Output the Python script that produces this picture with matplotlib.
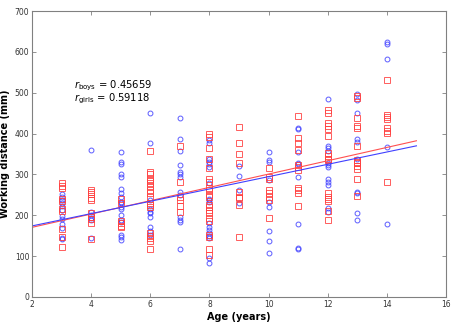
import numpy as np
import matplotlib
matplotlib.use("Agg")
import matplotlib.pyplot as plt

# working distance (mm) per age
boys = {
    3: [251, 245, 237, 229, 223, 213, 198, 190, 179, 168, 145, 141],
    4: [360, 209, 201, 193, 188, 144],
    5: [356, 331, 325, 301, 294, 264, 255, 245, 233, 229, 220, 215, 201, 188, 184, 152, 146, 139],
    6: [450, 376, 237, 215, 209, 205, 197, 171, 162, 152],
    7: [437, 386, 357, 323, 307, 301, 294, 258, 250, 197, 188, 184, 117],
    8: [384, 378, 338, 331, 325, 319, 278, 241, 237, 233, 182, 172, 164, 156, 149, 144, 95, 82],
    9: [321, 295, 262, 230],
    10: [356, 335, 331, 286, 233, 221, 162, 138, 108],
    11: [414, 410, 356, 329, 325, 294, 179, 119, 117],
    12: [484, 370, 364, 358, 327, 323, 319, 290, 282, 274, 217, 209],
    13: [497, 482, 451, 386, 380, 339, 258, 254, 205, 188],
    14: [625, 619, 583, 367, 178],
}
girls = {
    3: [278, 272, 267, 241, 236, 215, 210, 166, 146, 123],
    4: [263, 258, 251, 243, 237, 206, 197, 190, 182, 143],
    5: [240, 231, 187, 180, 174, 171],
    6: [358, 307, 301, 290, 285, 278, 272, 263, 254, 245, 229, 225, 221, 156, 149, 144, 138, 117],
    7: [370, 282, 245, 237, 223, 209],
    8: [398, 392, 364, 339, 315, 288, 282, 268, 262, 250, 244, 225, 221, 213, 205, 193, 187, 152, 146, 117, 103],
    9: [417, 378, 349, 329, 258, 245, 243, 225, 148],
    10: [315, 294, 288, 262, 254, 245, 237, 193],
    11: [442, 389, 376, 361, 323, 317, 312, 266, 262, 255, 223],
    12: [458, 450, 425, 418, 412, 394, 352, 345, 339, 335, 254, 245, 239, 236, 211, 188],
    13: [492, 488, 437, 418, 414, 370, 335, 331, 327, 320, 313, 288, 247],
    14: [531, 446, 441, 436, 413, 407, 401, 282],
}

# fitted lines (slope, intercept) as drawn in the chart
boys_fit = (15.08, 143.8)
girls_fit = (16.3, 137.9)
fit_range = [2, 15]
r_boys = 0.45659
r_girls = 0.59118


def flatten(d):
    xs, ys = [], []
    for age, vals in d.items():
        xs += [age] * len(vals)
        ys += vals
    return np.array(xs), np.array(ys)


fig = plt.figure(figsize=(4.63, 3.34), dpi=100)
ax = fig.add_axes([0.0691, 0.1108, 0.8942, 0.8562])

bx, by = flatten(boys)
gx, gy = flatten(girls)
ax.plot(bx, by, 'o', mfc='none', mec='#4040ff', ms=3.5, mew=0.7, alpha=0.85)
ax.plot(gx, gy, 's', mfc='none', mec='#ff4040', ms=3.8, mew=0.7, alpha=0.85)

xl = np.array(fit_range)
ax.plot(xl, girls_fit[0] * xl + girls_fit[1], color='#ff5050', lw=0.8)
ax.plot(xl, boys_fit[0] * xl + boys_fit[1], color='#4040ff', lw=0.8)

ax.set_xlim(2, 16)
ax.set_ylim(0, 700)
ax.set_xticks(range(2, 17, 2))
ax.set_yticks(range(0, 701, 100))
ax.tick_params(direction='in', length=3, width=0.6, colors='#808080',
               labelcolor='#333333', labelsize=5.5, top=True, right=True, pad=2)
for s in ax.spines.values():
    s.set_color('#808080')
    s.set_linewidth(0.8)

ax.set_xlabel('Age (years)', fontsize=7, fontweight='bold', labelpad=2)
ax.set_ylabel('Working distance (mm)', fontsize=7, fontweight='bold', labelpad=3)

ax.text(3.42, 518, r'$r_{\mathrm{boys}}$' + f' = {r_boys:.5f}', fontsize=7.2, va='center')
ax.text(3.42, 484, r'$r_{\mathrm{girls}}$' + f' = {r_girls:.5f}', fontsize=7.2, va='center')

fig.savefig('out.png', dpi=100)
